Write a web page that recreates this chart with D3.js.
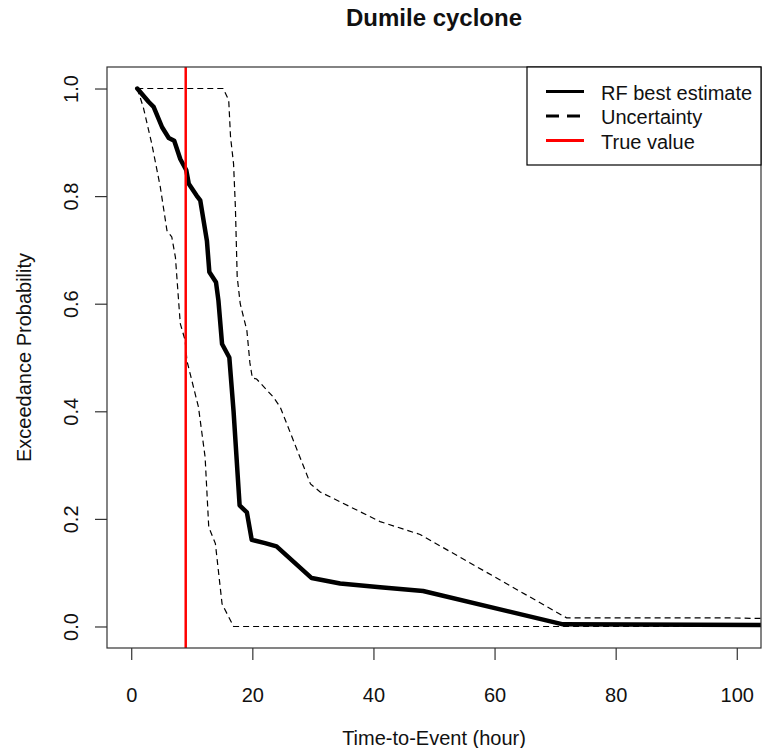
<!DOCTYPE html>
<html>
<head>
<meta charset="utf-8">
<script src="https://cdn.jsdelivr.net/npm/d3@7"></script>
<style>
  body { margin: 0; background: #fff; }
  svg { display: block; font-family: "Liberation Sans", Arial, sans-serif; }
</style>
</head>
<body>
<main></main>
<script>
// data
var hoursBest = [1, 2.9, 3.7, 5.1, 6.2, 7.1, 8.1, 9.1, 9.5, 10.8, 11.4, 12.5, 12.9, 14.0, 14.4, 15.0, 16.2, 16.9, 17.9, 19.1, 19.9, 22.1, 24.0, 29.8, 34.5, 41.1, 48.2, 71.3, 120];
var bestEstimate = [1.0, 0.975, 0.966, 0.928, 0.908, 0.903, 0.869, 0.848, 0.823, 0.801, 0.792, 0.717, 0.659, 0.640, 0.606, 0.525, 0.50, 0.40, 0.225, 0.212, 0.161, 0.155, 0.149, 0.090, 0.080, 0.073, 0.066, 0.004, 0.002];

var hoursUpper = [1, 15.2, 16.1, 16.4, 16.9, 17.2, 17.5, 18.0, 19.1, 19.6, 20.0, 20.7, 23.5, 24.6, 29.6, 31.2, 41.1, 47.7, 71.9, 98.2, 120];
var upperBound = [1.0, 1.0, 0.978, 0.91, 0.86, 0.78, 0.65, 0.60, 0.55, 0.49, 0.462, 0.46, 0.426, 0.408, 0.265, 0.25, 0.195, 0.171, 0.016, 0.016, 0.012];

var hoursLower = [1, 2.0, 3.4, 4.8, 5.9, 6.7, 7.3, 8.1, 8.9, 9.2, 11.1, 12.2, 12.8, 13.9, 15.0, 16.9, 120];
var lowerBound = [1.0, 0.965, 0.897, 0.817, 0.736, 0.724, 0.686, 0.563, 0.532, 0.494, 0.408, 0.315, 0.185, 0.154, 0.042, 0.0, 0.0];

var trueValue = 9;

var xTicks = [0, 20, 40, 60, 80, 100];
var yTicks = [0, 0.2, 0.4, 0.6, 0.8, 1.0];
var legendLabels = ["RF best estimate", "Uncertainty", "True value"];

var W = 762, H = 748;
var plotLeft = 107, plotRight = 761, plotTop = 67, plotBottom = 648;

var svg = d3.select("main")
  .append("svg")
    .attr("width", W)
    .attr("height", H);

var x = d3.scaleLinear().domain([-4, 104]).range([plotLeft, plotRight]);
var y = d3.scaleLinear().domain([-0.04, 1.04]).range([plotBottom, plotTop]);

svg.append("clipPath")
    .attr("id", "plotclip")
  .append("rect")
    .attr("x", plotLeft)
    .attr("y", plotTop)
    .attr("width", plotRight - plotLeft)
    .attr("height", plotBottom - plotTop);

var plot = svg.append("g").attr("clip-path", "url(#plotclip)");

function pairs(xs, ys) {
  return xs.map(function(d, i) { return [d, ys[i]]; });
}

var line = d3.line()
  .x(function(d) { return x(d[0]); })
  .y(function(d) { return y(d[1]); });

// uncertainty bounds
[pairs(hoursUpper, upperBound), pairs(hoursLower, lowerBound)].forEach(function(pts) {
  plot.append("path")
    .attr("d", line(pts))
    .attr("fill", "none")
    .attr("stroke", "#000")
    .attr("stroke-width", 1.2)
    .attr("stroke-dasharray", "6,4");
});

// best estimate
plot.append("path")
  .attr("d", line(pairs(hoursBest, bestEstimate)))
  .attr("fill", "none")
  .attr("stroke", "#000")
  .attr("stroke-width", 4.5)
  .attr("stroke-linejoin", "round")
  .attr("stroke-linecap", "round");

// true value
plot.append("line")
  .attr("x1", x(trueValue))
  .attr("x2", x(trueValue))
  .attr("y1", plotTop)
  .attr("y2", plotBottom)
  .attr("stroke", "#ff0000")
  .attr("stroke-width", 2.5);

// axes
var xAxis = svg.append("g")
  .attr("transform", "translate(0," + plotBottom + ")")
  .call(d3.axisBottom(x).tickValues(xTicks).tickSize(12).tickPadding(28).tickFormat(d3.format("d")));
xAxis.select(".domain").remove();
xAxis.selectAll("line").attr("stroke", "#333").attr("stroke-width", 1.2);
xAxis.selectAll("text")
  .attr("font-size", 20)
  .attr("font-family", "Liberation Sans, Arial, sans-serif")
  .attr("fill", "#111");

var yAxis = svg.append("g")
  .attr("transform", "translate(" + plotLeft + ",0)")
  .call(d3.axisLeft(y).tickValues(yTicks).tickSize(12).tickFormat(d3.format(".1f")));
yAxis.select(".domain").remove();
yAxis.selectAll("line").attr("stroke", "#333").attr("stroke-width", 1.2);
yAxis.selectAll("text")
  .attr("x", null)
  .attr("dy", null)
  .attr("transform", "translate(-29,0) rotate(-90)")
  .attr("text-anchor", "middle")
  .attr("font-size", 20)
  .attr("font-family", "Liberation Sans, Arial, sans-serif")
  .attr("fill", "#111");

// box
svg.append("rect")
  .attr("x", plotLeft)
  .attr("y", plotTop)
  .attr("width", plotRight - plotLeft)
  .attr("height", plotBottom - plotTop)
  .attr("fill", "none")
  .attr("stroke", "#333")
  .attr("stroke-width", 1.2);

// titles
svg.append("text")
  .attr("x", (plotLeft + plotRight) / 2)
  .attr("y", 26)
  .attr("text-anchor", "middle")
  .attr("font-size", 24)
  .attr("font-weight", "bold")
  .attr("fill", "#111")
  .text("Dumile cyclone");

svg.append("text")
  .attr("x", (plotLeft + plotRight) / 2)
  .attr("y", 745)
  .attr("text-anchor", "middle")
  .attr("font-size", 20)
  .attr("fill", "#111")
  .text("Time-to-Event (hour)");

svg.append("text")
  .attr("transform", "translate(31," + (plotTop + plotBottom) / 2 + ") rotate(-90)")
  .attr("text-anchor", "middle")
  .attr("font-size", 20)
  .attr("fill", "#111")
  .text("Exceedance Probability");

// legend
var legend = svg.append("g");
legend.append("rect")
  .attr("x", 527)
  .attr("y", plotTop)
  .attr("width", plotRight - 527)
  .attr("height", 98)
  .attr("fill", "#fff")
  .attr("stroke", "#000")
  .attr("stroke-width", 1.2);

var legendStyles = [
  { color: "#000", dash: null },
  { color: "#000", dash: "13,8" },
  { color: "#ff0000", dash: null }
];

legendLabels.forEach(function(label, i) {
  var ly = 91.5 + i * 24.5;
  legend.append("line")
    .attr("x1", 546)
    .attr("x2", 584)
    .attr("y1", ly)
    .attr("y2", ly)
    .attr("stroke", legendStyles[i].color)
    .attr("stroke-width", 2.8)
    .attr("stroke-dasharray", legendStyles[i].dash);
  legend.append("text")
    .attr("x", 601)
    .attr("y", ly + 8)
    .attr("font-size", 20)
    .attr("fill", "#111")
    .text(label);
});
</script>
</body>
</html>
